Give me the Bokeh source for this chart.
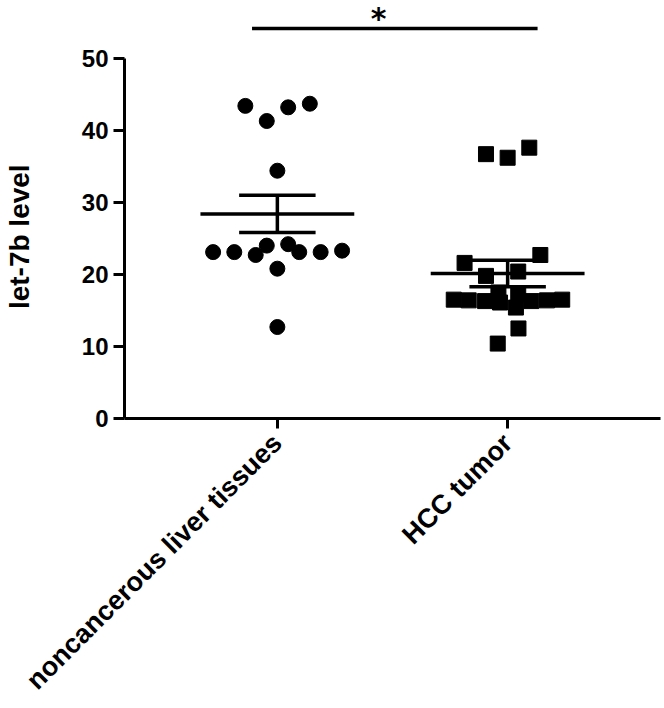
import numpy as np
from math import pi
from bokeh.plotting import figure
from bokeh.models import Range1d, FixedTicker, Label
from bokeh.embed import file_html
from bokeh.resources import INLINE

# ---- data ----
categories = ["noncancerous liver tissues", "HCC tumor"]
cat_pos = [1, 2]

noncancer_vals = [43.4, 41.3, 43.2, 43.7, 34.4, 23.1, 23.1, 22.7, 24.0,
                  24.2, 23.1, 23.1, 23.3, 20.8, 12.7]
noncancer_dx = [-0.139, -0.046, 0.047, 0.141, 0.0, -0.279, -0.187, -0.094,
                -0.046, 0.047, 0.095, 0.188, 0.281, 0.0, 0.0]

hcc_vals = [36.7, 36.2, 37.6, 22.7, 21.6, 19.8, 20.4, 16.5, 16.4, 16.3,
            16.1, 15.4, 16.3, 16.4, 16.5, 17.5, 17.2, 12.5, 10.4]
hcc_dx = [-0.094, 0.0, 0.094, 0.142, -0.187, -0.094, 0.046, -0.234, -0.169,
          -0.098, -0.033, 0.036, 0.103, 0.171, 0.237, -0.040, 0.046, 0.047,
          -0.043]

y_ticks = [0, 10, 20, 30, 40, 50]
y_bounds = (0, 50)
y_label = "let-7b level"
sig_text = "*"
sig_span = [0.89, 2.13]
sig_level = 54.15
sig_star_x = 1.44

FONT = "Liberation Sans"
X_RANGE = (0.3362, 2.6638)
Y_MAX = 58.03

# ---- figure ----
p = figure(width=662, height=708, output_backend="svg", toolbar_location=None,
           x_range=Range1d(*X_RANGE), y_range=Range1d(0, Y_MAX),
           min_border_left=120, min_border_right=2, min_border_top=0,
           min_border_bottom=289)
p.outline_line_color = None
p.grid.visible = False
p.background_fill_color = "white"
p.border_fill_color = "white"

# y axis
ya = p.yaxis[0]
ya.ticker = FixedTicker(ticks=y_ticks)
ya.bounds = y_bounds
ya.axis_line_width = 3
ya.major_tick_line_width = 3
ya.major_tick_in = 0
ya.major_tick_out = 11
ya.minor_tick_line_color = None
ya.major_label_standoff = 5
ya.major_label_text_font = FONT
ya.major_label_text_font_style = "bold"
ya.major_label_text_font_size = "24px"
ya.major_label_text_color = "black"
# trailing no-break spaces move the visible title down onto the 0-50 span
ya.axis_label = y_label + "\u00a0" * 7
ya.axis_label_text_font = FONT
ya.axis_label_text_font_style = "bold"
ya.axis_label_text_font_size = "28px"
ya.axis_label_text_color = "black"
ya.axis_label_standoff = 44

# x axis
xa = p.xaxis[0]
xa.ticker = FixedTicker(ticks=cat_pos)
xa.major_label_overrides = {pos: lab for pos, lab in zip(cat_pos, categories)}
xa.major_label_orientation = pi / 4
xa.axis_line_width = 3
xa.major_tick_line_width = 3
xa.major_tick_in = 0
xa.major_tick_out = 10
xa.minor_tick_line_color = None
xa.major_label_standoff = 10
xa.major_label_text_font = FONT
xa.major_label_text_font_style = "bold"
xa.major_label_text_font_size = "27px"
xa.major_label_text_color = "black"

# mean +/- SEM
groups = [noncancer_vals, hcc_vals]
means = [float(np.mean(g)) for g in groups]
sems = [float(np.std(g, ddof=1) / np.sqrt(len(g))) for g in groups]
half_mean = 0.334
half_cap = 0.166
lw = 3.5
for pos, m, s in zip(cat_pos, means, sems):
    p.segment(x0=[pos - half_mean], x1=[pos + half_mean], y0=[m], y1=[m],
              line_color="black", line_width=lw)
    p.segment(x0=[pos], x1=[pos], y0=[m - s], y1=[m + s],
              line_color="black", line_width=lw)
    p.segment(x0=[pos - half_cap, pos - half_cap], x1=[pos + half_cap, pos + half_cap],
              y0=[m + s, m - s], y1=[m + s, m - s],
              line_color="black", line_width=lw)

# points
p.scatter([cat_pos[0] + d for d in noncancer_dx], noncancer_vals, marker="circle",
          size=15, fill_color="black", line_color="black")
p.scatter([cat_pos[1] + d for d in hcc_dx], hcc_vals, marker="square",
          size=15, fill_color="black", line_color="black")

# significance bar
p.segment(x0=[sig_span[0]], x1=[sig_span[1]], y0=[sig_level], y1=[sig_level],
          line_color="black", line_width=3.5)
p.add_layout(Label(x=sig_star_x, y=Y_MAX, text=sig_text, text_font="DejaVu Sans",
                   text_font_style="bold", text_font_size="30px",
                   text_align="center", text_baseline="top",
                   text_color="black"))

open("out.html", "w").write(file_html(p, INLINE))
